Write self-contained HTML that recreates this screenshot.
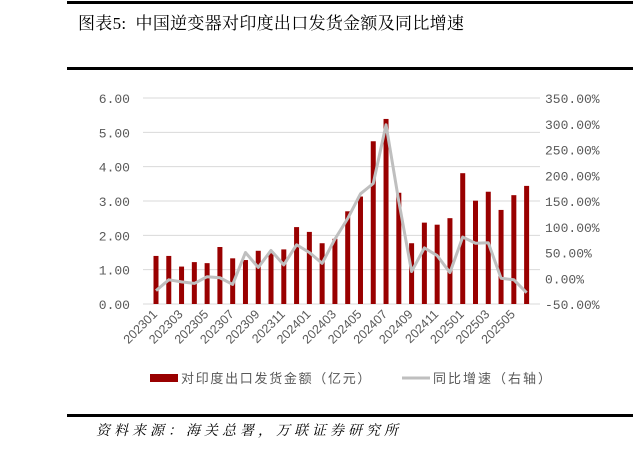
<!DOCTYPE html>
<html><head><meta charset="utf-8"><style>
body{margin:0;background:#fff;width:633px;height:451px;overflow:hidden;position:relative;font-family:"Liberation Serif","Noto Serif CJK SC",serif}
.ln{position:absolute;background:#000}
</style></head><body>
<div class="ln" style="left:67px;top:1px;width:566px;height:3px"></div>
<div style="position:absolute;left:78px;top:9px;font-size:17px;letter-spacing:0.3px;font-family:'Liberation Serif','Noto Serif CJK SC',serif;color:#000">图表5:&nbsp; 中国逆变器对印度出口发货金额及同比增速</div>
<div class="ln" style="left:67px;top:67px;width:566px;height:3px"></div>
<div class="ln" style="left:67px;top:414px;width:566px;height:3px"></div>
<div style="position:absolute;left:96px;top:420px;font-size:14px;letter-spacing:4px;font-style:italic;font-family:'Liberation Serif','Noto Serif CJK SC',serif">资料来源：海关总署，万联证券研究所</div>
<svg id="c" width="633" height="451" style="position:absolute;left:0;top:0"></svg>
<script>
const categories=["202301","202302","202303","202304","202305","202306","202307","202308","202309","202310","202311","202312","202401","202402","202403","202404","202405","202406","202407","202408","202409","202410","202411","202412","202501","202502","202503","202504","202505","202506"];
const amountValues=[1.40,1.40,1.09,1.22,1.19,1.66,1.33,1.28,1.55,1.48,1.59,2.24,2.10,1.77,1.90,2.70,3.13,4.74,5.39,3.24,1.77,2.37,2.31,2.50,3.81,3.01,3.27,2.74,3.17,3.44];
const growthValues=[-24,-3,-7,-10,3,1,-12,50,21,54,26,65,50,29,76,116,164,184,298,149,13,59,44,11,80,68,69,0,-3,-28];
const leftTicks=["0.00","1.00","2.00","3.00","4.00","5.00","6.00"];
const rightTicks=["-50.00%","0.00%","50.00%","100.00%","150.00%","200.00%","250.00%","300.00%","350.00%"];
const NS="http://www.w3.org/2000/svg";
const svg=document.getElementById('c');
function mk(t,a,p){const e=document.createElementNS(NS,t);for(const k in a)e.setAttribute(k,a[k]);(p||svg).appendChild(e);return e;}
const x0=143,x1=540;
const yL=v=>304-v*(206/6);
const yR=v=>304-(v+50)*(206/400);
const xC=i=>156+i*12.78;
leftTicks.forEach((t,i)=>{const v=parseFloat(t);const y=yL(v);
 if(i>0){const g=mk('line',{x1:x0,x2:x1,y1:y,y2:y,stroke:'#d9d9d9','stroke-width':1});
 
 }
 const tx=mk('text',{x:130,y:y+5,'text-anchor':'end','font-size':13,fill:'#595959','font-family':'Liberation Mono, monospace'});tx.textContent=t;
 
 });
rightTicks.forEach(t=>{const v=parseFloat(t);const tx=mk('text',{x:545,y:yR(v)+5,'font-size':13,fill:'#595959','font-family':'Liberation Mono, monospace'});tx.textContent=t;
 
 });
const ax=mk('line',{x1:x0,x2:x1,y1:304,y2:304,stroke:'#d9d9d9','stroke-width':1});


amountValues.forEach((v,i)=>{const r=mk('rect',{x:xC(i)-2.5,y:yL(v),width:5,height:304-yL(v),fill:'#990000'});
 
 });
const pl=mk('polyline',{points:growthValues.map((v,i)=>xC(i)+','+yR(v)).join(' '),fill:'none',stroke:'#bfbfbf','stroke-width':3,'stroke-linejoin':'round'});


categories.forEach((c,i)=>{if(i%2)return;const x=xC(i)+2,y=315;
 const tx=mk('text',{x:x,y:y,'text-anchor':'end','font-size':12.5,fill:'#595959','font-family':'Liberation Sans, sans-serif',transform:`rotate(-45 ${x} ${y})`});tx.textContent=c;
 
 });
const lg=mk('g',{});


mk('rect',{x:150,y:374,width:28,height:8,fill:'#990000'},lg);
const t1=mk('text',{x:181,y:383,'font-size':13,'letter-spacing':1.7,fill:'#595959','font-family':'Noto Sans CJK SC, sans-serif'},lg);t1.textContent='对印度出口发货金额（亿元）';


mk('line',{x1:402,x2:430,y1:378,y2:378,stroke:'#bfbfbf','stroke-width':3},lg);
const t2=mk('text',{x:433,y:383,'font-size':13,'letter-spacing':2,fill:'#595959','font-family':'Noto Sans CJK SC, sans-serif'},lg);t2.textContent='同比增速（右轴）';


</script>
</body></html>
